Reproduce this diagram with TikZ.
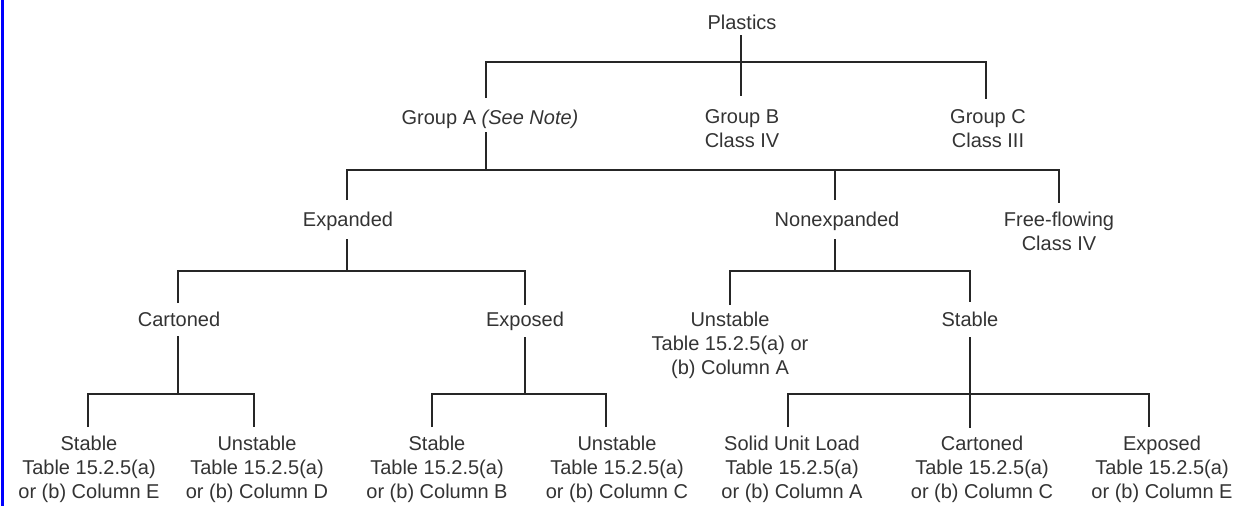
\documentclass[tikz,border=0pt]{standalone}
\usepackage{fontspec}
\setmainfont{Liberation Sans}
\definecolor{txt}{HTML}{333333}
\definecolor{ln}{HTML}{262626}
\begin{document}
\begin{tikzpicture}[x=1pt,y=-1pt,
  lbl/.style={inner sep=0pt,outer sep=0pt,anchor=north,align=center,text=txt,font=\fontsize{20}{24}\selectfont},
  conn/.style={draw=ln,line width=2.4pt}]
\useasboundingbox (0,0) rectangle (1248,506);
\fill[blue] (1,0) rectangle (4,506);

% text nodes
\node[lbl] (plastics) at (742,15) {Plastics};
\node[lbl] (ga) at (490,110) {Group A \textit{(See Note)}};
\node[lbl] (gb) at (742,110) {Group B\\Class IV};
\node[lbl] (gc) at (988,110) {Group C\\Class III};
\node[lbl] (exp) at (348,212) {Expanded};
\node[lbl] (nonexp) at (837,212) {Nonexpanded};
\node[lbl] (free) at (1059,212) {Free-flowing\\Class IV};
\node[lbl] (cart) at (179,312) {Cartoned};
\node[lbl] (expo) at (525,312) {Exposed};
\node[lbl] (unst) at (730,312) {Unstable\\Table 15.2.5(a) or\\(b) Column A};
\node[lbl] (stab) at (970,312) {Stable};
\node[lbl] (b1) at (89,436) {Stable\\Table 15.2.5(a)\\or (b) Column E};
\node[lbl] (b2) at (257,436) {Unstable\\Table 15.2.5(a)\\or (b) Column D};
\node[lbl] (b3) at (437,436) {Stable\\Table 15.2.5(a)\\or (b) Column B};
\node[lbl] (b4) at (617,436) {Unstable\\Table 15.2.5(a)\\or (b) Column C};
\node[lbl] (b5) at (792,436) {Solid Unit Load\\Table 15.2.5(a)\\or (b) Column A};
\node[lbl] (b6) at (982,436) {Cartoned\\Table 15.2.5(a)\\or (b) Column C};
\node[lbl] (b7) at (1162,436) {Exposed\\Table 15.2.5(a)\\or (b) Column E};

% connector end points
\coordinate (plB) at ([xshift=-1pt,yshift=-6pt]plastics.base);
\coordinate (gaB) at ([xshift=-4pt,yshift=-8pt]ga.base);
\coordinate (expB) at ([xshift=-1pt,yshift=-13pt]exp.base);
\coordinate (nonB) at ([xshift=-2pt,yshift=-13pt]nonexp.base);
\coordinate (cartB) at ([xshift=-1pt,yshift=-10pt]cart.base);
\coordinate (expoB) at ([yshift=-11pt]expo.base);
\coordinate (stabB) at ([yshift=-11pt]stab.base);

\coordinate (gaT) at ([xshift=-4pt,yshift=12pt]ga.north);
\coordinate (gbT) at ([xshift=-1pt,yshift=14pt]gb.north);
\coordinate (gcT) at ([xshift=-2pt,yshift=11pt]gc.north);
\coordinate (expT) at ([xshift=-1pt,yshift=12pt]exp.north);
\coordinate (nonT) at ([xshift=-2pt,yshift=12pt]nonexp.north);
\coordinate (freeT) at ([yshift=9pt]free.north);
\coordinate (cartT) at ([xshift=-1pt,yshift=9pt]cart.north);
\coordinate (expoT) at ([yshift=7pt]expo.north);
\coordinate (unstT) at ([yshift=7pt]unst.north);
\coordinate (stabT) at ([yshift=10pt]stab.north);
\coordinate (b1T) at ([xshift=-1pt,yshift=9pt]b1.north);
\coordinate (b2T) at ([xshift=-3pt,yshift=9pt]b2.north);
\coordinate (b3T) at ([xshift=-5pt,yshift=9pt]b3.north);
\coordinate (b4T) at ([xshift=-11pt,yshift=9pt]b4.north);
\coordinate (b5T) at ([xshift=-4pt,yshift=9pt]b5.north);
\coordinate (b6T) at ([xshift=-12pt,yshift=8pt]b6.north);
\coordinate (b7T) at ([xshift=-13pt,yshift=9pt]b7.north);

% bars
\coordinate (bar1) at (741,62);
\coordinate (bar2) at (486,170);
\coordinate (bar3a) at (347,271);
\coordinate (bar3b) at (835,271);
\coordinate (bar4a) at (178,394);
\coordinate (bar4b) at (525,394);
\coordinate (bar4c) at (970,394);

% connectors
\draw[conn] (plB) -- (gbT);
\draw[conn] (gaT) |- (bar1) -| (gcT);

\draw[conn] (gaB) -- (bar2);
\draw[conn] (expT) |- (bar2) -| (freeT);
\draw[conn] (nonT) -- (nonT |- bar2);

\draw[conn] (expB) -- (bar3a);
\draw[conn] (cartT) |- (bar3a) -| (expoT);
\draw[conn] (nonB) -- (bar3b);
\draw[conn] (unstT) |- (bar3b) -| (stabT);

\draw[conn] (cartB) -- (bar4a);
\draw[conn] (b1T) |- (bar4a) -| (b2T);
\draw[conn] (expoB) -- (bar4b);
\draw[conn] (b3T) |- (bar4b) -| (b4T);
\draw[conn] (stabB) -- (b6T);
\draw[conn] (b5T) |- (bar4c) -| (b7T);
\end{tikzpicture}
\end{document}
